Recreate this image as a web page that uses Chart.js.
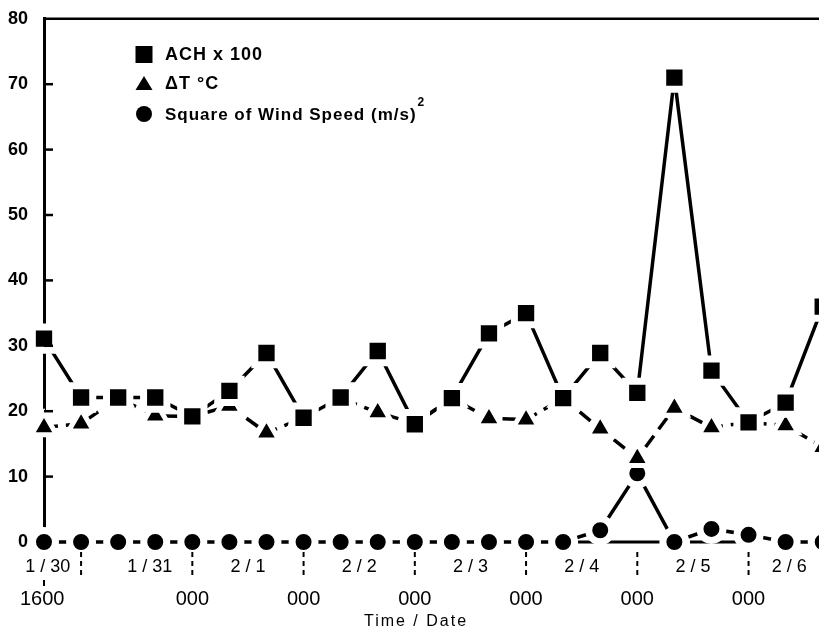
<!DOCTYPE html>
<html>
<head>
<meta charset="utf-8">
<script src="https://cdn.jsdelivr.net/npm/chart.js@4.4.0/dist/chart.umd.min.js"></script>
<style>
  html, body { margin: 0; padding: 0; background: #fff; }
  canvas { display: block; }
</style>
</head>
<body>
<canvas id="chart" width="819" height="644"></canvas>
<script>
// readings, one per time step (x = step index)
const achValues = [31.1, 22.1, 22.1, 22.1, 19.2, 23.1, 28.9, 19.0, 22.1, 29.2, 18.0, 22.0,
                   31.9, 35.0, 22.0, 28.9, 22.8, 71.0, 26.2, 18.3, 21.3, 36.0];
const deltaTValues = [17.5, 18.1, 22.0, 19.3, 19.2, 20.8, 16.7, 19.0, 22.0, 19.8, 18.1, 22.0,
                      18.9, 18.7, 22.0, 17.3, 12.8, 20.5, 17.5, 18.3, 17.8, 14.5];
const windValues = [0, 0, 0, 0, 0, 0, 0, 0, 0, 0, 0, 0,
                    0, 0, 0, 1.8, 10.5, 0, 2.0, 1.1, 0, 0];

const yTicks = [0, 10, 20, 30, 40, 50, 60, 70, 80];
const dateLabels = ['1 / 30', '1 / 31', '2 / 1', '2 / 2', '2 / 3', '2 / 4', '2 / 5', '2 / 6'];
const datePositions = [0.1, 2.85, 5.5, 8.5, 11.5, 14.5, 17.5, 20.1];
const timeLabels = ['1600', '000', '000', '000', '000', '000', '000'];
const timePositions = [-0.05, 4, 7, 10, 13, 16, 19];
const separatorPositions = [1, 4, 7, 10, 13, 16, 19];
const baselineSegments = [[14.37, 16.69], [17.42, 18.77]];

const toPoints = arr => arr.map((y, i) => ({ x: i, y: y }));

const decorations = {
  id: 'decorations',
  beforeDatasetsDraw(chart) {
    const { ctx, scales: { x, y } } = chart;
    ctx.save();
    ctx.strokeStyle = '#000';
    ctx.lineWidth = 3;
    baselineSegments.forEach(s => {
      ctx.beginPath();
      ctx.moveTo(x.getPixelForValue(s[0]), y.getPixelForValue(0));
      ctx.lineTo(x.getPixelForValue(s[1]), y.getPixelForValue(0));
      ctx.stroke();
    });
    ctx.restore();
  },
  afterDraw(chart) {
    const { ctx, chartArea, scales: { x, y } } = chart;
    ctx.save();
    ctx.strokeStyle = '#000';
    ctx.fillStyle = '#000';

    // top frame line
    ctx.lineWidth = 2.5;
    ctx.beginPath();
    ctx.moveTo(chartArea.left, chartArea.top);
    ctx.lineTo(chartArea.right, chartArea.top);
    ctx.stroke();

    // inner tick marks on the y axis
    yTicks.slice(1, -1).forEach(v => {
      const py = y.getPixelForValue(v);
      ctx.beginPath();
      ctx.moveTo(chartArea.left, py);
      ctx.lineTo(chartArea.left + 9, py);
      ctx.stroke();
    });

    // dashed day separators below the axis
    ctx.lineWidth = 2;
    ctx.setLineDash([5, 4]);
    separatorPositions.forEach(v => {
      const px = x.getPixelForValue(v);
      ctx.beginPath();
      ctx.moveTo(px, 552);
      ctx.lineTo(px, 578);
      ctx.stroke();
    });
    ctx.setLineDash([]);
    ctx.beginPath();
    ctx.moveTo(x.getPixelForValue(0), 580);
    ctx.lineTo(x.getPixelForValue(0), 586);
    ctx.stroke();

    // date and time rows
    ctx.textAlign = 'center';
    ctx.textBaseline = 'middle';
    ctx.font = '18px "Liberation Sans", Arial, sans-serif';
    dateLabels.forEach((t, i) => ctx.fillText(t, x.getPixelForValue(datePositions[i]), 567));
    ctx.font = '20px "Liberation Sans", Arial, sans-serif';
    timeLabels.forEach((t, i) => ctx.fillText(t, x.getPixelForValue(timePositions[i]), 599));
    ctx.font = '16px "Liberation Sans", Arial, sans-serif';
    ctx.letterSpacing = '2px';
    ctx.fillText('Time / Date', 416, 622);
    ctx.letterSpacing = '0px';

    // legend
    const lx = 144;
    ctx.fillRect(lx - 8.5, 46, 17, 17);
    ctx.beginPath();
    ctx.moveTo(lx, 76);
    ctx.lineTo(lx + 8.5, 90);
    ctx.lineTo(lx - 8.5, 90);
    ctx.closePath();
    ctx.fill();
    ctx.beginPath();
    ctx.arc(lx, 114, 8, 0, Math.PI * 2);
    ctx.fill();

    ctx.textAlign = 'left';
    ctx.font = 'bold 18px "Liberation Sans", Arial, sans-serif';
    ctx.letterSpacing = '1px';
    ctx.fillText('ACH x 100', 165, 55);
    ctx.fillText('\u0394T \u00B0C', 165, 84);
    const sq = 'Square of Wind Speed (m/s)';
    ctx.font = 'bold 17px "Liberation Sans", Arial, sans-serif';
    ctx.fillText(sq, 165, 115);
    const w = ctx.measureText(sq).width;
    ctx.font = 'bold 12px "Liberation Sans", Arial, sans-serif';
    ctx.fillText('2', 165 + w + 1, 103);
    ctx.restore();
  }
};

const lineDefaults = {
  borderColor: '#000',
  backgroundColor: '#000',
  borderWidth: 3.5,
  pointBackgroundColor: '#000',
  pointBorderColor: '#fff',
  tension: 0,
  clip: false
};

new Chart(document.getElementById('chart'), {
  type: 'line',
  data: {
    datasets: [
      Object.assign({}, lineDefaults, {
        label: 'ACH x 100',
        data: toPoints(achValues),
        pointStyle: 'rect',
        pointRadius: 16.5,
        pointBorderWidth: 7
      }),
      Object.assign({}, lineDefaults, {
        label: '\u0394T \u00B0C',
        data: toPoints(deltaTValues),
        borderDash: [14, 8],
        pointStyle: 'triangle',
        pointRadius: 14.5,
        pointBorderWidth: 5
      }),
      Object.assign({}, lineDefaults, {
        label: 'Square of Wind Speed (m/s)\u00B2',
        data: toPoints(windValues),
        pointStyle: 'circle',
        pointRadius: 11.5,
        pointBorderWidth: 7
      })
    ]
  },
  options: {
    responsive: false,
    animation: false,
    events: [],
    layout: { autoPadding: false, padding: { top: 16, right: 0, left: 0, bottom: 0 } },
    plugins: {
      legend: { display: false },
      tooltip: { enabled: false }
    },
    scales: {
      x: {
        type: 'linear',
        min: 0,
        max: 20.9,
        grid: { display: false },
        border: { display: false },
        ticks: { display: false },
        afterFit(scale) { scale.height = 102; }
      },
      y: {
        min: 0,
        max: 80,
        afterBuildTicks(scale) { scale.ticks = yTicks.map(v => ({ value: v })); },
        grid: { display: false },
        border: { display: true, color: '#000', width: 3 },
        ticks: {
          color: '#000',
          padding: 8,
          font: { family: '"Liberation Sans", Arial, sans-serif', size: 18, weight: 'bold' }
        },
        afterFit(scale) { scale.width = 44; }
      }
    }
  },
  plugins: [decorations]
});
</script>
</body>
</html>
